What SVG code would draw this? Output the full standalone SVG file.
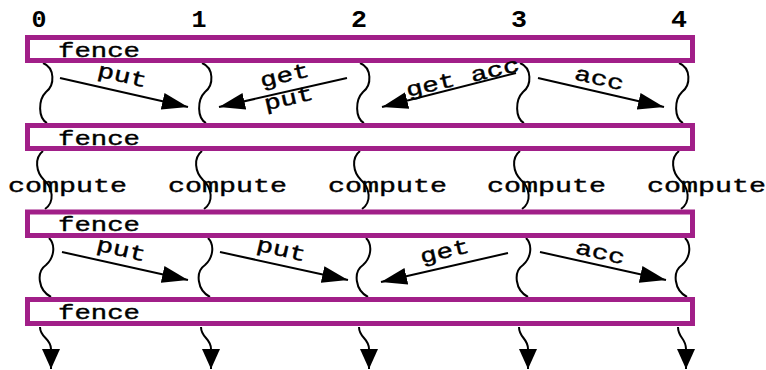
<svg xmlns="http://www.w3.org/2000/svg" width="766" height="370" viewBox="0 0 766 370">
<style>
.fence{fill:#fff;stroke:#a11f88;stroke-width:5}
.t{font-family:"Liberation Mono","Courier New",monospace;font-size:21px;fill:#000;stroke:#000;stroke-width:0.4}
.n{font-family:"Liberation Mono","Courier New",monospace;font-size:24px;font-weight:bold;fill:#000;text-anchor:middle}
.w{fill:none;stroke:#000;stroke-width:2}
.a{fill:none;stroke:#000;stroke-width:2;marker-end:url(#ah)}
.d{fill:none;stroke:#000;stroke-width:2;marker-end:url(#ad)}
.l{font-family:"Liberation Mono","Courier New",monospace;font-size:21px;fill:#000;stroke:#000;stroke-width:0.4;text-anchor:middle}
</style>
<defs>
<marker id="ah" markerUnits="userSpaceOnUse" markerWidth="27" markerHeight="19" viewBox="0 0 27 19" refX="26" refY="9.5" orient="auto">
<path d="M0,1 L26,9.5 L0,18 z" fill="#000"/>
</marker>
<marker id="ad" markerUnits="userSpaceOnUse" markerWidth="21" markerHeight="20" viewBox="0 0 21 20" refX="20" refY="10" orient="auto">
<path d="M0,1 L20,10 L0,19 z" fill="#000"/>
</marker>
</defs>

<g id="labels">
<text class="n" x="39" y="27" textLength="15" lengthAdjust="spacingAndGlyphs">0</text>
<text class="n" x="199" y="27" textLength="15" lengthAdjust="spacingAndGlyphs">1</text>
<text class="n" x="359" y="27" textLength="16" lengthAdjust="spacingAndGlyphs">2</text>
<text class="n" x="519" y="27" textLength="16" lengthAdjust="spacingAndGlyphs">3</text>
<text class="n" x="679" y="27" textLength="16" lengthAdjust="spacingAndGlyphs">4</text>
</g>

<g id="connectors">
<!-- section A waves -->
<path class="w" d="M43,63 C55,68 55,85 46,92 C38,100 38,118 47,123"/>
<path class="w" d="M202,63 C214,68 214,85 205,92 C197,100 197,118 206,123"/>
<path class="w" d="M360,63 C372,68 372,85 363,92 C355,100 355,118 364,123"/>
<path class="w" d="M520,63 C532,68 532,85 523,92 C515,100 515,118 524,123"/>
<path class="w" d="M679,63 C691,68 691,85 682,92 C674,100 674,118 683,123"/>
<!-- section B waves -->
<path class="w" d="M43,151 C34,158 36,172 44,180 C53,188 55,202 45,209"/>
<path class="w" d="M202,151 C193,158 195,172 203,180 C212,188 214,202 204,209"/>
<path class="w" d="M360,151 C351,158 353,172 361,180 C370,188 372,202 362,209"/>
<path class="w" d="M520,151 C511,158 513,172 521,180 C530,188 532,202 522,209"/>
<path class="w" d="M679,151 C670,158 672,172 680,180 C689,188 691,202 681,209"/>
<!-- section C waves -->
<path class="w" d="M49,238 C56,245 54,258 46,265 C36,272 38,290 51,297"/>
<path class="w" d="M208,238 C215,245 213,258 205,265 C195,272 197,290 210,297"/>
<path class="w" d="M366,238 C373,245 371,258 363,265 C353,272 355,290 368,297"/>
<path class="w" d="M526,238 C533,245 531,258 523,265 C513,272 515,290 528,297"/>
<path class="w" d="M685,238 C692,245 690,258 682,265 C672,272 674,290 687,297"/>
<!-- bottom arrows -->
<path class="d" d="M40,327 C40,338 51,338 51,349 L51,369"/>
<path class="d" d="M201,327 C201,338 211,338 211,349 L211,369"/>
<path class="d" d="M359,327 C359,338 369,338 369,349 L369,369"/>
<path class="d" d="M519,327 C519,338 528,338 528,349 L528,369"/>
<path class="d" d="M678,327 C678,338 686,338 686,349 L686,369"/>
<!-- section A arrows -->
<path class="a" d="M60,78 L188,107"/>
<path class="a" d="M347,78 L219,107"/>
<path class="a" d="M516,73 L382,107"/>
<path class="a" d="M538,78 L664,107"/>
<!-- section C arrows -->
<path class="a" d="M62,252 L188,280"/>
<path class="a" d="M220,252 L348,280"/>
<path class="a" d="M508,253 L381,282"/>
<path class="a" d="M540,252 L666,280"/>
</g>

<g id="fence1">
<rect class="fence" x="27.5" y="37.5" width="665" height="23"/>
<text class="t" x="58" y="57" textLength="82" lengthAdjust="spacingAndGlyphs">fence</text>
</g>
<g id="fence2">
<rect class="fence" x="27.5" y="125.5" width="665" height="23"/>
<text class="t" x="58" y="145" textLength="82" lengthAdjust="spacingAndGlyphs">fence</text>
</g>
<g id="fence3">
<rect class="fence" x="27.5" y="212" width="665" height="23.5"/>
<text class="t" x="58" y="231" textLength="82" lengthAdjust="spacingAndGlyphs">fence</text>
</g>
<g id="fence4">
<rect class="fence" x="27.5" y="299.5" width="665" height="24"/>
<text class="t" x="58" y="319" textLength="82" lengthAdjust="spacingAndGlyphs">fence</text>
</g>

<g id="compute">
<text class="t" x="8" y="192" textLength="119" lengthAdjust="spacingAndGlyphs">compute</text>
<text class="t" x="168" y="192" textLength="119" lengthAdjust="spacingAndGlyphs">compute</text>
<text class="t" x="328" y="192" textLength="119" lengthAdjust="spacingAndGlyphs">compute</text>
<text class="t" x="487" y="192" textLength="119" lengthAdjust="spacingAndGlyphs">compute</text>
<text class="t" x="647" y="192" textLength="119" lengthAdjust="spacingAndGlyphs">compute</text>
</g>

<g id="arrow-labels">
<text class="l" transform="translate(122,77) rotate(13)" x="0" y="5" textLength="50" lengthAdjust="spacingAndGlyphs">put</text>
<text class="l" transform="translate(285,77) rotate(-13)" x="0" y="5" textLength="50" lengthAdjust="spacingAndGlyphs">get</text>
<text class="l" transform="translate(289,100) rotate(-13)" x="0" y="5" textLength="50" lengthAdjust="spacingAndGlyphs">put</text>
<text class="l" transform="translate(463,79) rotate(-13)" x="0" y="5" textLength="116" lengthAdjust="spacingAndGlyphs">get acc</text>
<text class="l" transform="translate(599,80) rotate(13)" x="0" y="5" textLength="50" lengthAdjust="spacingAndGlyphs">acc</text>
<text class="l" transform="translate(121,251) rotate(13)" x="0" y="5" textLength="50" lengthAdjust="spacingAndGlyphs">put</text>
<text class="l" transform="translate(281,251) rotate(13)" x="0" y="5" textLength="50" lengthAdjust="spacingAndGlyphs">put</text>
<text class="l" transform="translate(445,253) rotate(-13)" x="0" y="5" textLength="50" lengthAdjust="spacingAndGlyphs">get</text>
<text class="l" transform="translate(600,254) rotate(13)" x="0" y="5" textLength="50" lengthAdjust="spacingAndGlyphs">acc</text>
</g>
</svg>
